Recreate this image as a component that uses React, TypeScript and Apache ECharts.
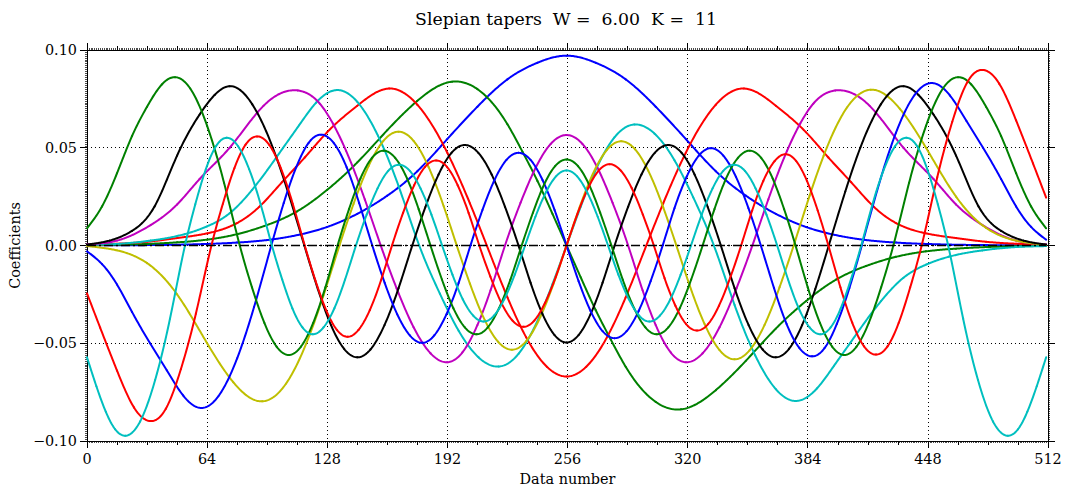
import React, { useEffect, useRef } from "react";
import * as echarts from "echarts";

// ---- data (sample index, coefficient) ----
const xTicks = [0, 64, 128, 192, 256, 320, 384, 448, 512];
const yTicks = [-0.1, -0.05, 0, 0.05, 0.1];
const titleText = "Slepian tapers  W =  6.00  K =  11";
const xName = "Data number";
const yName = "Coefficients";
const colors = ["#0000ff", "#008000", "#ff0000", "#00bfbf", "#bf00bf", "#bfbf00", "#000000", "#0000ff", "#008000", "#ff0000", "#00bfbf"];

const taper0 = [[0,0.0001],[32,0.0002],[64,0.0008],[80,0.0015],[96,0.0028],[112,0.0053],[128,0.0095],[144,0.0162],[160,0.0255],[176,0.038],[192,0.0545],[208,0.071],[224,0.085],[240,0.0935],[255.5,0.0971],[271,0.0935],[287,0.085],[303,0.071],[319,0.0545],[335,0.038],[351,0.0255],[367,0.0162],[383,0.0095],[399,0.0053],[415,0.0028],[431,0.0015],[447,0.0008],[479,0.0002],[511,0.0001]];

const taper1 = [[0,0.0002],[32,0.0008],[48,0.0016],[64,0.003],[80,0.0058],[96,0.0105],[112,0.0175],[128,0.0285],[144,0.0425],[160,0.059],[176,0.074],[194.5,0.0838],[208,0.08],[224,0.062],[232,0.048],[240,0.033],[248,0.0162],[255.5,0],[263,-0.0162],[271,-0.033],[279,-0.048],[287,-0.062],[303,-0.08],[316.5,-0.0838],[335,-0.074],[351,-0.059],[367,-0.0425],[383,-0.0285],[399,-0.0175],[415,-0.0105],[431,-0.0058],[447,-0.003],[463,-0.0016],[479,-0.0008],[511,-0.0002]];

const taper2 = [[0,0.0004],[16,0.0009],[32,0.0019],[48,0.0038],[64,0.0062],[80,0.0115],[92,0.02],[104,0.0325],[116,0.045],[128,0.058],[144,0.0715],[161,0.0803],[176,0.072],[192,0.0474],[204,0.0216],[213,0],[224,-0.0265],[234,-0.047],[245,-0.062],[255.5,-0.067],[266,-0.062],[277,-0.047],[287,-0.0265],[298,0],[307,0.0216],[319,0.0474],[335,0.072],[350,0.0803],[367,0.0715],[383,0.058],[395,0.045],[407,0.0325],[419,0.02],[431,0.0115],[447,0.0062],[463,0.0038],[479,0.0019],[495,0.0009],[511,0.0004]];

const taper3 = [[0,0.0003],[16,0.0008],[34,0.0025],[52,0.0058],[64,0.0098],[76,0.0165],[88,0.0285],[96,0.0385],[104.5,0.05],[113,0.0615],[122,0.073],[133,0.0795],[144,0.0735],[155,0.0562],[166,0.0304],[177,0],[188,-0.0246],[198,-0.0436],[208.6,-0.0572],[219.3,-0.0619],[230,-0.0553],[241,-0.0364],[248,-0.0198],[255.5,0],[263,0.0198],[270,0.0364],[281,0.0553],[291.7,0.0619],[302.4,0.0572],[313,0.0436],[323,0.0246],[334,0],[345,-0.0304],[356,-0.0562],[367,-0.0735],[378,-0.0795],[389,-0.073],[398,-0.0615],[406.5,-0.05],[415,-0.0385],[423,-0.0285],[435,-0.0165],[447,-0.0098],[459,-0.0058],[477,-0.0025],[495,-0.0008],[511,-0.0003]];

const taper4 = [[0,0.0006],[16,0.0025],[34,0.0105],[48,0.021],[60,0.034],[76,0.05],[94,0.0714],[112.3,0.0793],[124,0.0726],[131,0.0624],[138,0.0485],[148,0.0236],[156.5,0],[165,-0.022],[174,-0.0418],[183,-0.0551],[191.9,-0.0597],[200,-0.0547],[208,-0.0407],[215,-0.0229],[222.7,0],[231,0.0219],[239,0.0397],[247,0.0519],[255.5,0.0565],[264,0.0519],[272,0.0397],[280,0.0219],[288.3,0],[296,-0.0229],[303,-0.0407],[311,-0.0547],[319.1,-0.0597],[328,-0.0551],[337,-0.0418],[346,-0.022],[354.5,0],[363,0.0236],[373,0.0485],[380,0.0624],[387,0.0726],[398.7,0.0793],[417,0.0714],[435,0.05],[451,0.034],[463,0.021],[477,0.0105],[495,0.0025],[511,0.0006]];

const taper5 = [[0,-0.0003],[16,-0.0025],[32,-0.009],[48,-0.025],[64,-0.05],[78,-0.07],[93.4,-0.0797],[106,-0.0707],[118.5,-0.046],[126,-0.0255],[134.5,0],[142,0.0213],[150,0.0406],[158,0.0536],[166,0.0582],[174,0.0535],[182,0.0401],[190,0.0202],[197,0],[204,-0.0195],[212,-0.0383],[219,-0.0492],[226.4,-0.0533],[234,-0.0489],[241.5,-0.0366],[248.5,-0.0197],[255.5,0],[262.5,0.0197],[269.5,0.0366],[277,0.0489],[284.6,0.0533],[292,0.0492],[299,0.0383],[307,0.0195],[314,0],[321,-0.0202],[329,-0.0401],[337,-0.0535],[345,-0.0582],[353,-0.0536],[361,-0.0406],[369,-0.0213],[376.5,0],[385,0.0255],[392.5,0.046],[405,0.0707],[417.6,0.0797],[433,0.07],[447,0.05],[463,0.025],[479,0.009],[495,0.0025],[511,0.0003]];

const taper6 = [[0,0.0005],[12,0.0025],[24,0.0075],[36,0.02],[48,0.046],[60,0.067],[68,0.077],[76,0.0815],[88,0.0723],[99,0.05],[107,0.0276],[115.8,0],[123,-0.0223],[130,-0.0407],[137,-0.0529],[144,-0.0572],[151,-0.0532],[158.5,-0.0407],[166,-0.0218],[173.3,0],[180.3,0.0197],[187.3,0.0363],[194.3,0.0475],[201.3,0.0514],[208.5,0.0474],[215.6,0.0363],[222.7,0.0198],[229.9,0],[236.3,-0.019],[242.7,-0.0351],[249.1,-0.0458],[255.5,-0.0496],[261.9,-0.0458],[268.3,-0.0351],[274.7,-0.019],[281.1,0],[288.3,0.0198],[295.4,0.0363],[302.5,0.0474],[309.7,0.0514],[316.7,0.0475],[323.7,0.0363],[330.7,0.0197],[337.7,0],[345,-0.0218],[352.5,-0.0407],[360,-0.0532],[367,-0.0572],[374,-0.0529],[381,-0.0407],[388,-0.0223],[395.2,0],[404,0.0276],[412,0.05],[423,0.0723],[435,0.0815],[443,0.077],[451,0.067],[463,0.046],[475,0.02],[487,0.0075],[499,0.0025],[511,0.0005]];

const taper7 = [[0,-0.003],[8,-0.0095],[16,-0.02],[24,-0.034],[33.6,-0.05],[42.5,-0.0638],[51.3,-0.0768],[61,-0.0831],[70,-0.0771],[80,-0.0577],[89,-0.0315],[98.2,0],[104.8,0.0217],[111.5,0.0401],[118,0.0524],[124.7,0.0567],[131.5,0.0524],[138.3,0.0401],[145,0.0217],[152,0],[158.6,-0.0191],[165.3,-0.0352],[172,-0.046],[178.6,-0.0498],[185,-0.046],[191.5,-0.0352],[198,-0.0191],[204.3,0],[210.7,0.0182],[217.1,0.0335],[223.5,0.0438],[229.9,0.0474],[236.3,0.0438],[242.7,0.0335],[249.1,0.0182],[255.5,0],[261.9,-0.0182],[268.3,-0.0335],[274.7,-0.0438],[281.1,-0.0474],[287.5,-0.0438],[293.9,-0.0335],[300.3,-0.0182],[306.7,0],[313,0.0191],[319.5,0.0352],[326,0.046],[332.4,0.0498],[339,0.046],[345.7,0.0352],[352.4,0.0191],[359,0],[366,-0.0217],[372.7,-0.0401],[379.5,-0.0524],[386.3,-0.0567],[393,-0.0524],[399.5,-0.0401],[406.2,-0.0217],[412.8,0],[422,0.0315],[431,0.0577],[441,0.0771],[450,0.0831],[459.7,0.0768],[468.5,0.0638],[477.4,0.05],[487,0.034],[495,0.02],[503,0.0095],[511,0.003]];

const taper8 = [[0,0.0088],[8,0.02],[16,0.037],[24,0.056],[32,0.071],[40,0.0825],[46.9,0.0861],[55,0.0803],[64,0.0612],[73,0.0321],[81.4,0],[87.9,-0.0214],[94.5,-0.0396],[101,-0.0517],[107.5,-0.056],[114,-0.0517],[120.5,-0.0396],[127,-0.0214],[133.5,0],[139.6,0.0186],[145.7,0.0343],[151.8,0.0448],[157.9,0.0485],[164.2,0.0448],[170.5,0.0343],[176.7,0.0186],[183,0],[189.1,-0.0174],[195.2,-0.0321],[201.3,-0.0419],[207.4,-0.0454],[213.5,-0.0419],[219.5,-0.0321],[225.6,-0.0174],[231.6,0],[237.6,0.0168],[243.5,0.0311],[249.5,0.0407],[255.5,0.044],[261.5,0.0407],[267.5,0.0311],[273.4,0.0168],[279.4,0],[285.4,-0.0174],[291.5,-0.0321],[297.5,-0.0419],[303.6,-0.0454],[309.7,-0.0419],[315.8,-0.0321],[321.9,-0.0174],[328,0],[334.3,0.0186],[340.5,0.0343],[346.8,0.0448],[353.1,0.0485],[359.2,0.0448],[365.3,0.0343],[371.4,0.0186],[377.5,0],[384,-0.0214],[390.5,-0.0396],[397,-0.0517],[403.5,-0.056],[410,-0.0517],[416.5,-0.0396],[423.1,-0.0214],[429.6,0],[438,0.0321],[447,0.0612],[456,0.0803],[464.1,0.0861],[471,0.0825],[479,0.071],[487,0.056],[495,0.037],[503,0.02],[511,0.0088]];

const taper9 = [[0,-0.0245],[7,-0.042],[16,-0.064],[25,-0.0828],[33.6,-0.0898],[42,-0.0835],[50,-0.0633],[58,-0.0349],[66.3,0],[72.4,0.0214],[78.5,0.0395],[84.5,0.0516],[90.6,0.0558],[97,0.0516],[103.3,0.0395],[109.6,0.0214],[116,0],[121.7,-0.0179],[127.4,-0.033],[133.1,-0.0431],[138.8,-0.0467],[144.7,-0.0431],[150.7,-0.033],[156.6,-0.0179],[162.5,0],[168.4,0.0167],[174.3,0.0308],[180.1,0.0402],[186,0.0435],[191.8,0.0402],[197.5,0.0308],[203.3,0.0167],[209,0],[214.9,-0.0159],[220.8,-0.0294],[226.7,-0.0384],[232.6,-0.0416],[238.3,-0.0384],[244,-0.0294],[249.8,-0.0159],[255.5,0],[261.2,0.0159],[267,0.0294],[272.7,0.0384],[278.4,0.0416],[284.3,0.0384],[290.2,0.0294],[296.1,0.0159],[302,0],[307.7,-0.0167],[313.5,-0.0308],[319.2,-0.0402],[325,-0.0435],[330.9,-0.0402],[336.7,-0.0308],[342.6,-0.0167],[348.5,0],[354.4,0.0179],[360.3,0.033],[366.3,0.0431],[372.2,0.0467],[377.9,0.0431],[383.6,0.033],[389.3,0.0179],[395,0],[401.4,-0.0214],[407.7,-0.0395],[414,-0.0516],[420.4,-0.0558],[426.5,-0.0516],[432.5,-0.0395],[438.6,-0.0214],[444.7,0],[453,0.0349],[461,0.0633],[469,0.0835],[477.4,0.0898],[486,0.0828],[495,0.064],[504,0.042],[511,0.0245]];

const taper10 = [[0,-0.0572],[5,-0.072],[10,-0.085],[15,-0.094],[20.4,-0.0973],[28.3,-0.09],[36.3,-0.0688],[44.2,-0.0375],[52.2,0],[57.7,0.0211],[63.3,0.039],[68.8,0.0509],[74.3,0.0551],[80.4,0.0509],[86.4,0.039],[92.5,0.0211],[98.5,0],[104,-0.0174],[109.4,-0.0321],[114.8,-0.0419],[120.3,-0.0454],[126,-0.0419],[131.8,-0.0321],[137.5,-0.0174],[143.3,0],[149,0.0158],[154.8,0.0292],[160.5,0.0382],[166.3,0.0413],[172,0.0382],[177.7,0.0292],[183.5,0.0158],[189.2,0],[194.7,-0.0149],[200.2,-0.0275],[205.8,-0.0359],[211.3,-0.0389],[216.8,-0.0359],[222.3,-0.0275],[227.9,-0.0149],[233.4,0],[238.9,0.0147],[244.5,0.0272],[250,0.0355],[255.5,0.0384],[261,0.0355],[266.5,0.0272],[272.1,0.0147],[277.6,0],[283.1,-0.0149],[288.7,-0.0275],[294.2,-0.0359],[299.7,-0.0389],[305.2,-0.0359],[310.8,-0.0275],[316.3,-0.0149],[321.8,0],[327.5,0.0158],[333.3,0.0292],[339,0.0382],[344.7,0.0413],[350.5,0.0382],[356.2,0.0292],[362,0.0158],[367.7,0],[373.5,-0.0174],[379.2,-0.0321],[385,-0.0419],[390.7,-0.0454],[396.2,-0.0419],[401.6,-0.0321],[407,-0.0174],[412.5,0],[418.5,0.0211],[424.6,0.039],[430.6,0.0509],[436.7,0.0551],[442.2,0.0509],[447.7,0.039],[453.3,0.0211],[458.8,0],[466.8,-0.0375],[474.7,-0.0688],[482.7,-0.09],[490.6,-0.0973],[496,-0.094],[501,-0.085],[506,-0.072],[511,-0.0572]];

const zeroLine = [[0, 0], [511, 0]];

const tapers = [taper0, taper1, taper2, taper3, taper4, taper5, taper6, taper7, taper8, taper9, taper10];

const FONT = "DejaVu Serif";

function fmtY(v: number): string {
  if (Math.abs(v) < 1e-9) return "0.00";
  const s = Math.abs(v).toFixed(2);
  return v < 0 ? "\u2212" + s : s;
}

// Natural cubic spline second derivatives (used only to draw a smooth
// curve through the read points, like a line series' smoothing).
function splineM(pts: number[][]): number[] {
  const n = pts.length;
  const M = new Array(n).fill(0);
  if (n < 3) return M;
  const cp = new Array(n).fill(0);
  const dp = new Array(n).fill(0);
  for (let i = 1; i < n - 1; i++) {
    const h0 = pts[i][0] - pts[i - 1][0];
    const h1 = pts[i + 1][0] - pts[i][0];
    const a = h0;
    const b = 2 * (h0 + h1);
    const c = h1;
    const r = 6 * ((pts[i + 1][1] - pts[i][1]) / h1 - (pts[i][1] - pts[i - 1][1]) / h0);
    const denom = b - a * cp[i - 1];
    cp[i] = c / denom;
    dp[i] = (r - a * dp[i - 1]) / denom;
  }
  for (let i = n - 2; i >= 1; i--) {
    M[i] = dp[i] - cp[i] * M[i + 1];
  }
  return M;
}

function splineAt(pts: number[][], M: number[], i: number, x: number): number {
  const x0 = pts[i][0];
  const x1 = pts[i + 1][0];
  const h = x1 - x0;
  const A = (x1 - x) / h;
  const B = (x - x0) / h;
  return A * pts[i][1] + B * pts[i + 1][1] + ((A * A * A - A) * M[i] + (B * B * B - B) * M[i + 1]) * (h * h) / 6;
}

export default function App() {
  const ref = useRef<HTMLDivElement>(null);
  useEffect(() => {
    document.body.style.margin = "0";
    if (!ref.current) return;
    const chart = echarts.init(ref.current, null, { renderer: "svg" });
    const black = "#000000";
    const xMin = xTicks[0];
    const xMax = xTicks[xTicks.length - 1];
    const xInt = xTicks[1] - xTicks[0];
    const yMin = yTicks[0];
    const yMax = yTicks[yTicks.length - 1];
    const yInt = 0.05;

    const mainX = (pos: string, labels: boolean, grid: boolean) => ({
      type: "value",
      position: pos,
      min: xMin,
      max: xMax,
      interval: xInt,
      axisLine: { show: true, onZero: false, lineStyle: { color: black, width: 1 } },
      axisTick: { show: true, length: 7, lineStyle: { color: black, width: 1 } },
      minorTick: { show: true, splitNumber: 4, length: 4, lineStyle: { color: black, width: 1 } },
      axisLabel: { show: labels, color: black, fontFamily: FONT, fontSize: 14.4, margin: 11 },
      splitLine: { show: grid, lineStyle: { color: black, width: 1, type: [1, 3] } },
      minorSplitLine: { show: false },
      ...(labels
        ? { name: xName, nameLocation: "middle", nameGap: 31, nameTextStyle: { color: black, fontFamily: FONT, fontSize: 14.4 } }
        : {}),
    });
    const denseX = (pos: string) => ({
      type: "value",
      position: pos,
      min: xMin,
      max: xMax,
      interval: 16,
      axisLine: { show: false, onZero: false },
      axisTick: { show: false },
      axisLabel: { show: false },
      splitLine: { show: false },
      minorTick: { show: true, splitNumber: 16, length: 2, lineStyle: { color: black, width: 0.7 } },
    });
    const mainY = (pos: string, labels: boolean, grid: boolean) => ({
      type: "value",
      position: pos,
      min: yMin,
      max: yMax,
      interval: yInt,
      axisLine: { show: true, onZero: false, lineStyle: { color: black, width: 1 } },
      axisTick: { show: true, length: 7, lineStyle: { color: black, width: 1 } },
      minorTick: { show: true, splitNumber: 50, length: 2, lineStyle: { color: black, width: 0.7 } },
      axisLabel: { show: labels, color: black, fontFamily: FONT, fontSize: 14.4, margin: 10, formatter: fmtY },
      splitLine: { show: grid, lineStyle: { color: black, width: 1, type: [1, 3] } },
      ...(labels
        ? { name: yName, nameLocation: "middle", nameGap: 54, nameTextStyle: { color: black, fontFamily: FONT, fontSize: 14.4 } }
        : {}),
    });

    const series: any[] = tapers.map((d, si) => {
      const M = splineM(d);
      return {
        type: "custom",
        xAxisIndex: 0,
        yAxisIndex: 0,
        data: d,
        encode: { x: 0, y: 1 },
        clip: true,
        silent: true,
        renderItem: (params: any, api: any) => {
          const i = params.dataIndex;
          if (i >= d.length - 1) return null;
          const x0 = d[i][0];
          const x1 = d[i + 1][0];
          const steps = Math.max(2, Math.ceil((x1 - x0) / 0.5));
          const points: number[][] = [];
          for (let k = 0; k <= steps; k++) {
            const x = x0 + ((x1 - x0) * k) / steps;
            points.push(api.coord([x, splineAt(d, M, i, x)]));
          }
          return {
            type: "polyline",
            shape: { points },
            style: { stroke: colors[si], lineWidth: 2, fill: null, lineCap: "round", lineJoin: "round" },
            silent: true,
          };
        },
      };
    });
    series.push({
      type: "line",
      data: zeroLine,
      xAxisIndex: 0,
      yAxisIndex: 0,
      showSymbol: false,
      symbol: "none",
      silent: true,
      lineStyle: { color: black, width: 1.6, type: [9, 3, 2, 3] },
      itemStyle: { color: black },
      z: 3,
    });

    chart.setOption({
      animation: false,
      backgroundColor: "#ffffff",
      textStyle: { fontFamily: FONT },
      grid: { left: 83, right: 17, top: 50, bottom: 47, containLabel: false },
      xAxis: [mainX("bottom", true, true), denseX("bottom"), mainX("top", false, false), denseX("top")],
      yAxis: [mainY("left", true, true), mainY("right", false, false)],
      graphic: [
        {
          type: "text",
          x: 566,
          y: 10,
          style: {
            text: titleText,
            fill: black,
            font: "17.3px 'DejaVu Serif'",
            textAlign: "center",
            textVerticalAlign: "top",
          },
        },
      ],
      series,
    });
    return () => chart.dispose();
  }, []);
  return <div ref={ref} style={{ width: 1065, height: 491 }} />;
}
